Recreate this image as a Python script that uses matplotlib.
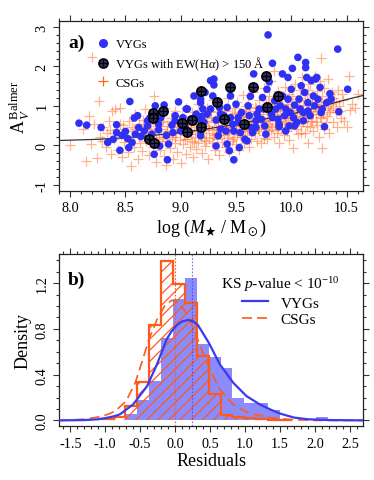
import matplotlib
matplotlib.use('Agg')
import matplotlib.pyplot as plt
from matplotlib.lines import Line2D
from matplotlib.ticker import MultipleLocator, FormatStrFormatter

plt.rcParams['font.family'] = ['Liberation Serif', 'DejaVu Serif']
plt.rcParams['mathtext.fontset'] = 'custom'
plt.rcParams['mathtext.rm'] = 'Liberation Serif'
plt.rcParams['mathtext.it'] = 'Liberation Serif:italic'
plt.rcParams['mathtext.bf'] = 'Liberation Serif:bold'
plt.rcParams['mathtext.fallback'] = 'stix'
plt.rcParams['axes.unicode_minus'] = False
plt.rcParams['hatch.linewidth'] = 0.9

# ---------------- panel a data ----------------
vyg_points = [
    (8.08, 0.56), (8.15, 0.51), (8.28, 0.45), (8.54, 1.11), (8.34, 0.07), (8.39, 0.15),
    (8.42, 0.52), (8.45, -0.13), (8.47, 0.25), (8.50, 0.35), (8.53, -0.06), (8.56, 0.07),
    (8.58, 0.69), (8.61, 0.75), (8.59, 0.28), (8.62, 0.45), (8.64, 0.22), (8.70, 0.49),
    (8.67, 0.36), (8.72, 0.69), (8.74, 0.28), (8.76, -0.23), (8.77, 1.00), (8.80, 0.53),
    (8.80, 0.39), (8.81, -0.02), (8.85, 1.02), (8.87, 0.25), (8.88, -0.37), (8.89, 0.03),
    (8.92, 0.51), (8.93, 0.32), (8.95, 0.75), (8.98, 1.10), (9.00, 0.36), (9.02, 0.70),
    (9.04, 0.46), (9.06, 0.92), (9.08, 0.32), (9.09, 0.66), (9.12, 1.25), (9.14, 0.79),
    (9.16, 0.66), (9.18, 1.17), (9.18, 1.08), (9.19, 0.73), (9.18, 0.24), (9.20, 0.92),
    (9.21, 0.58), (9.22, 1.34), (9.24, 0.79), (9.27, 1.64), (9.30, 1.68), (9.27, 0.92),
    (9.29, 1.25), (9.30, 1.53), (9.32, 0.64), (9.34, 0.24), (9.35, 0.96), (9.36, 0.41),
    (9.32, -0.02), (9.39, 0.75), (9.41, 0.36), (9.42, 0.96), (9.42, 0.03), (9.45, 1.25),
    (9.45, 0.70), (9.47, 0.53), (9.48, 0.36), (9.50, 1.04), (9.52, 0.70), (9.53, -0.06),
    (9.54, 0.32), (9.48, -0.37), (9.44, -0.14), (9.55, 0.83), (9.57, 0.53), (9.58, 0.15),
    (9.60, 0.11), (9.61, 1.00), (9.62, 0.75), (9.64, 0.45), (9.65, 0.32), (9.66, 1.81),
    (9.63, 1.24), (9.68, 0.62), (9.69, 0.79), (9.71, 0.92), (9.73, 0.66), (9.74, 1.21),
    (9.76, 0.49), (9.77, 0.28), (9.78, 1.42), (9.80, 1.61), (9.79, 2.80), (9.82, 0.79),
    (9.83, 2.08), (9.85, 1.13), (9.86, 0.92), (9.88, 0.66), (9.89, 0.53), (9.90, 1.00),
    (9.92, 1.25), (9.92, 1.81), (9.94, 0.75), (9.95, 0.92), (9.97, 1.17), (9.98, 0.49),
    (9.99, 0.83), (10.00, 1.42), (10.01, 1.95), (10.02, 0.70), (10.03, 1.02), (10.05, 0.58),
    (10.06, 2.23), (10.07, 1.17), (10.08, 0.92), (10.09, 1.51), (10.11, 0.83), (10.12, 1.34),
    (10.13, 2.10), (10.13, 1.97), (10.14, 1.72), (10.15, 1.08), (10.17, 0.75), (10.18, 1.64),
    (10.20, 1.25), (10.21, 1.00), (10.22, 1.68), (10.23, 1.72), (10.24, 1.17), (10.26, 1.47),
    (10.27, 0.83), (10.28, 0.92), (10.30, 0.47), (10.32, 1.08), (10.35, 1.31), (10.36, 1.17),
    (10.42, 2.44), (10.43, 0.85), (10.51, 1.42), (9.89, 0.47), (9.83, 0.70), (9.75, 0.92),
    (9.68, 0.45), (9.52, 0.58), (9.36, 0.79), (9.18, 0.36), (8.95, 0.62), (9.05, 0.92),
    (8.82, 0.70), (8.70, 0.62), (8.76, 0.70), (8.42, 0.32), (8.52, 0.17), (9.95, 0.36),
    (10.03, 0.49), (10.11, 0.62), (10.15, 0.87), (9.97, 1.72),
]

ew_points = [
    (8.75, 0.83), (8.75, 0.70), (8.84, 0.88), (8.71, 0.15), (8.76, 0.05), (9.01, 0.56),
    (9.06, 0.34), (9.10, 0.64), (9.18, 0.47), (9.18, 1.37), (9.33, 1.10), (9.39, 0.66),
    (9.45, 1.49), (9.57, 0.55), (9.65, 1.48), (9.77, 1.76), (9.78, 0.96), (9.88, 1.25),
]

csg_points = [
    (8.00, 0.00), (8.12, 0.40), (8.14, -0.40), (8.17, 0.75), (8.19, 0.03), (8.20, 2.25),
    (8.22, 0.55), (8.24, -0.33), (8.26, 1.12), (8.27, 0.22), (8.29, 0.10), (8.30, 0.47),
    (8.32, -0.05), (8.33, 0.30), (8.35, 0.62), (8.37, -0.22), (8.38, 0.88), (8.40, 0.15),
    (8.41, 0.92), (8.42, 0.40), (8.43, -0.12), (8.45, 0.95), (8.46, 0.25), (8.47, -0.30),
    (8.48, 0.52), (8.49, 0.08),
    (8.51, 0.35), (8.52, -0.18), (8.53, 0.62), (8.54, 0.12), (8.55, -0.53), (8.56, 0.45),
    (8.57, 0.20), (8.58, -0.05), (8.59, 0.78), (8.60, 0.30), (8.61, -0.35), (8.62, 0.55),
    (8.63, 0.05), (8.64, 0.42), (8.65, -0.15), (8.66, 0.65), (8.67, 0.25), (8.68, 0.92),
    (8.69, 0.10), (8.70, 0.38),
    (8.71, -0.25), (8.72, 0.55), (8.73, 0.18), (8.74, 0.72), (8.75, -0.05), (8.76, 1.25),
    (8.76, 0.33), (8.77, 0.05), (8.78, -0.42), (8.79, 0.48), (8.80, 0.22), (8.80, 0.80),
    (8.81, -0.12), (8.82, 0.40), (8.83, 0.10), (8.84, 0.62), (8.85, -0.28), (8.86, 0.28),
    (8.86, 0.95), (8.87, -0.50), (8.88, 0.50), (8.89, 0.15), (8.90, 0.35), (8.90, -0.08),
    (8.91, 0.70), (8.92, 0.20), (8.93, -0.35), (8.94, 0.45), (8.95, 0.05), (8.95, 0.88),
    (8.96, 0.30), (8.97, -0.18), (8.98, 0.58), (8.99, 0.12), (9.00, -0.45), (9.00, 0.38),
    (9.01, 0.75), (9.02, 0.02), (9.03, 0.25), (9.04, 0.50), (9.05, -0.22), (9.05, 0.95),
    (9.06, 0.15), (9.07, 0.40), (9.08, -0.05), (9.08, 0.65), (9.09, 0.28), (9.10, 0.10),
    (9.10, 0.85),
    (9.11, -0.30), (9.12, 0.45), (9.13, 0.20), (9.13, 0.70), (9.14, -0.10), (9.15, 0.35),
    (9.16, 0.05), (9.16, 1.05), (9.17, 0.55), (9.18, 0.22), (9.19, -0.20), (9.19, 0.80),
    (9.20, 0.40), (9.21, 0.12), (9.22, 0.62), (9.22, -0.02), (9.23, 0.30), (9.24, 0.95),
    (9.25, 0.48), (9.25, -0.35), (9.26, 0.18), (9.27, 0.72), (9.28, 0.05), (9.28, 0.38),
    (9.29, 1.15), (9.30, 0.25), (9.30, 0.58),
    (9.31, -0.12), (9.32, 0.42), (9.33, 0.85), (9.33, 0.15), (9.34, 0.60), (9.35, -0.25),
    (9.35, 0.32), (9.36, 1.02), (9.37, 0.50), (9.37, 0.08), (9.38, 0.70), (9.39, 0.25),
    (9.40, -0.05), (9.40, 0.45), (9.41, 0.88), (9.42, 0.18), (9.42, 0.62), (9.43, 1.20),
    (9.44, 0.35), (9.44, -0.18), (9.45, 0.55), (9.46, 0.10), (9.46, 0.78), (9.47, 0.40),
    (9.48, 0.95), (9.48, 0.22), (9.49, 0.62), (9.50, 0.02), (9.50, 0.48),
    (9.51, 1.10), (9.51, 0.30), (9.52, 0.68), (9.53, -0.12), (9.53, 0.52), (9.54, 0.85),
    (9.55, 0.20), (9.55, 0.42), (9.56, 1.28), (9.57, 0.62), (9.57, 0.05), (9.58, 0.35),
    (9.58, 0.92), (9.59, 0.75), (9.60, 0.25), (9.60, 0.50), (9.61, 1.05), (9.62, -0.05),
    (9.62, 0.65), (9.63, 0.38), (9.63, 0.88), (9.64, 0.15), (9.65, 0.55), (9.65, 1.35),
    (9.66, 0.72), (9.67, 0.30), (9.67, 0.98), (9.68, 0.45), (9.69, 0.10), (9.69, 0.80),
    (9.70, 0.60),
    (9.71, 1.15), (9.71, 0.35), (9.72, 0.70), (9.73, 0.05), (9.73, 0.52), (9.74, 0.90),
    (9.75, 0.25), (9.75, 1.45), (9.76, 0.62), (9.76, 0.42), (9.77, 1.05), (9.78, 0.78),
    (9.78, 0.15), (9.79, 0.55), (9.80, 1.25), (9.80, 0.35), (9.81, 0.85), (9.81, 0.65),
    (9.82, 1.62), (9.83, 0.45), (9.83, 0.95), (9.84, 1.89), (9.84, 0.20), (9.85, 0.72),
    (9.86, 1.12), (9.86, 0.50), (9.87, 0.30), (9.87, 0.88), (9.88, 1.38), (9.89, 0.60),
    (9.89, 0.05), (9.90, 0.78), (9.90, 1.00),
    (9.91, 0.40), (9.91, 1.20), (9.92, 0.68), (9.93, 0.90), (9.93, 0.25), (9.94, 1.48),
    (9.94, 0.55), (9.95, 0.80), (9.96, 1.05), (9.96, 0.35), (9.97, 0.65), (9.98, 1.30),
    (9.98, 0.12), (9.99, 0.88), (10.00, 0.50), (10.00, 1.10), (10.01, 0.72), (10.02, -0.07),
    (10.02, 0.95), (10.03, 1.55), (10.04, 0.40), (10.04, 0.82), (10.05, 1.18), (10.06, 0.62),
    (10.06, 0.28), (10.07, 1.00), (10.08, 1.40), (10.08, 0.75), (10.09, 0.48), (10.10, 0.90),
    (10.10, 1.72),
    (10.11, 0.60), (10.12, 1.15), (10.12, 0.30), (10.13, 0.85), (10.14, 1.30), (10.15, 0.70),
    (10.15, 0.05), (10.16, 1.02), (10.17, 0.45), (10.17, 1.55), (10.18, 0.88), (10.19, 1.20),
    (10.19, 0.62), (10.20, 0.35), (10.21, 1.00), (10.21, 1.75), (10.22, 0.78), (10.23, 1.38),
    (10.23, 0.52), (10.24, 1.10), (10.25, 0.20), (10.25, 0.92), (10.26, 1.62), (10.27, 2.22),
    (10.27, 0.68), (10.28, 1.25), (10.28, -0.07), (10.29, 0.95), (10.30, 0.42), (10.30, 1.45),
    (10.31, 1.10), (10.32, 0.75), (10.33, 1.68), (10.34, 0.30), (10.35, 1.30), (10.35, 0.90),
    (10.36, 1.05), (10.38, 0.58), (10.39, 1.20), (10.40, 0.85), (10.41, 0.47), (10.42, 1.40),
    (10.43, 1.00), (10.45, 0.70), (10.47, 1.15),
    (10.50, 0.45), (10.52, 1.76), (10.53, 0.89), (10.55, 1.05), (10.58, 0.95), (10.60, 1.30),
    (9.21, 0.52), (9.23, 0.10), (9.24, 0.68), (9.26, 0.40), (9.27, 0.88), (9.29, 0.20),
    (9.31, 0.65), (9.32, 0.28), (9.34, 0.45), (9.36, 0.60), (9.38, 0.35), (9.39, 0.90),
    (9.41, 0.52), (9.43, 0.28), (9.45, 0.70), (9.47, 0.15), (9.49, 0.82), (9.50, 0.38),
    (9.52, 0.58), (9.54, 0.25), (9.56, 0.72), (9.57, 0.45), (9.59, 1.00), (9.61, 0.40),
    (9.62, 0.82), (9.64, 0.58), (9.66, 0.35), (9.68, 0.95), (9.70, 0.42), (9.72, 0.88),
    (9.74, 0.62), (9.75, 0.18), (9.77, 0.48), (9.79, 1.10), (9.80, 0.68), (9.82, 0.38),
    (9.84, 0.85), (9.85, 0.55), (9.87, 1.05), (9.88, 0.40), (9.90, 0.62), (9.92, 1.05),
    (9.93, 0.45), (9.95, 0.68), (9.97, 0.95), (9.99, 0.60), (10.00, 0.82), (10.01, 1.25),
    (10.03, 0.55), (10.05, 0.90), (10.07, 0.68), (10.08, 1.20), (10.09, 0.32), (10.11, 1.02),
    (10.12, 0.75), (10.14, 0.50), (10.15, 1.40), (10.16, 0.85), (10.18, 0.62), (10.19, 1.05),
    (10.20, 0.80), (10.22, 0.58), (10.23, 1.20), (10.24, 0.88), (10.26, 0.72), (10.27, 1.05),
    (10.29, 0.80), (10.31, 0.58), (10.33, 1.00), (10.34, 0.85), (10.37, 1.35), (10.38, 0.95),
    (10.40, 1.10), (10.44, 0.88), (10.46, 1.30), (10.48, 0.62), (8.95, 0.22), (8.97, 0.48),
    (9.02, 0.60), (9.04, 0.15), (9.06, 0.32), (9.09, 0.55), (9.12, 0.08), (9.14, 0.52),
    (9.15, 0.78), (9.17, 0.30), (8.84, 0.20), (8.82, 0.58), (8.88, 0.35), (8.92, 0.62),
    (8.78, 0.15), (8.73, 0.42), (8.68, 0.50), (8.62, 0.22), (8.58, 0.40), (8.50, 0.20),
    (8.45, 0.55), (8.36, 0.38),
]

trend_mass = [7.90, 8.25, 8.50, 8.75, 9.00, 9.25, 9.50, 9.75, 10.00, 10.25, 10.50, 10.66]
trend_av = [0.12, 0.15, 0.19, 0.25, 0.32, 0.42, 0.53, 0.66, 0.79, 0.97, 1.16, 1.27]

# ---------------- panel b data ----------------
csg_edges = [-1.05, -0.88, -0.71, -0.54, -0.37, -0.20, -0.03, 0.14, 0.31, 0.48, 0.65,
             0.82, 0.99, 1.16, 1.33, 1.50, 1.67]
csg_density = [0.01, 0.03, 0.13, 0.34, 0.83, 1.39, 1.19, 1.03, 0.56, 0.235, 0.05,
               0.03, 0.02, 0.01, 0.005, 0.003]

vyg_edges = [-0.88, -0.71, -0.54, -0.37, -0.20, -0.03, 0.14, 0.31, 0.48, 0.65, 0.82,
             0.99, 1.16, 1.33, 1.50, 1.67, 1.84, 2.01, 2.18, 2.35]
vyg_density = [0.0, 0.06, 0.175, 0.345, 0.72, 1.065, 1.245, 0.665, 0.55, 0.46, 0.20,
               0.15, 0.15, 0.088, 0.005, 0.005, 0.005, 0.03, 0.01]

vyg_fit_x = [-1.65, -1.3, -1.1, -1.0, -0.88, -0.79, -0.6, -0.4, -0.26, -0.12, -0.05, 0.02,
             0.10, 0.19, 0.26, 0.33, 0.48, 0.64, 0.83, 1.02, 1.21, 1.36, 1.5, 1.7, 1.9,
             2.2, 2.7]
vyg_fit_y = [0.0, 0.003, 0.01, 0.02, 0.035, 0.053, 0.14, 0.30, 0.49, 0.71, 0.78, 0.83,
             0.865, 0.878, 0.865, 0.83, 0.68, 0.49, 0.33, 0.213, 0.14, 0.096, 0.06, 0.025,
             0.01, 0.003, 0.0]

csg_fit_x = [-1.65, -1.3, -1.1, -0.95, -0.85, -0.7, -0.57, -0.48, -0.38, -0.26, -0.15,
             -0.05, 0.05, 0.15, 0.25, 0.36, 0.5, 0.64, 0.83, 1.0, 1.12, 1.4, 1.7, 2.0, 2.7]
csg_fit_y = [0.0, 0.01, 0.03, 0.055, 0.085, 0.17, 0.33, 0.5, 0.70, 0.88, 1.0, 1.05,
             1.03, 0.95, 0.82, 0.65, 0.44, 0.27, 0.14, 0.08, 0.055, 0.02, 0.006, 0.0, 0.0]

csg_median = 0.0
vyg_median = 0.24

# ---------------- styling ----------------
BLUE = '#3030f4'
ORANGE_PT = '#ff6a22'
ORANGE = '#ff5a1c'
BLUE_FILL = '#8b8bfb'
BLUE_LINE = '#3a3af0'
EW_FACE = '#2e2e66'

fig = plt.figure(figsize=(3.74, 4.81), dpi=100)
ax1 = fig.add_axes([0.158, 0.601, 0.813, 0.353])
ax2 = fig.add_axes([0.158, 0.112, 0.813, 0.358])


def style(ax, xmaj, xmin, ymaj, ymin):
    ax.xaxis.set_major_locator(MultipleLocator(xmaj))
    ax.xaxis.set_minor_locator(MultipleLocator(xmin))
    ax.yaxis.set_major_locator(MultipleLocator(ymaj))
    ax.yaxis.set_minor_locator(MultipleLocator(ymin))
    ax.tick_params(which='both', direction='out', top=True, right=True,
                   labeltop=False, labelright=False, width=0.8, color='#333333')
    ax.tick_params(which='major', length=4.0, labelsize=10.3, pad=3.5)
    ax.tick_params(which='minor', length=2.4)
    ax.tick_params(axis='y', labelrotation=90)
    for lab in ax.get_yticklabels():
        lab.set_va('center')
    for s in ax.spines.values():
        s.set_linewidth(0.9)
        s.set_color('#222222')


# ---- panel a ----
cx = [p[0] for p in csg_points]
cy = [p[1] for p in csg_points]
vx = [p[0] for p in vyg_points]
vy = [p[1] for p in vyg_points]
ex = [p[0] for p in ew_points]
ey = [p[1] for p in ew_points]

ax1.scatter(cx, cy, marker='+', s=58, color=ORANGE_PT, alpha=0.5, linewidths=0.9, zorder=2)
ax1.plot(trend_mass, trend_av, color='#333333', lw=0.9, zorder=3)
ax1.scatter(vx, vy, marker='o', s=30, color=BLUE, edgecolors='none', zorder=4)
ax1.scatter(ex, ey, marker='o', s=44, facecolor=EW_FACE, edgecolors='black',
            linewidths=1.2, zorder=5)
ax1.scatter(ex, ey, marker='+', s=40, color='black', linewidths=0.9, zorder=6)

ax1.set_xlim(7.90, 10.65)
ax1.set_ylim(-1.16, 3.15)
style(ax1, 0.5, 0.1, 1, 0.2)
ax1.set_xlabel(r'log ($M_\bigstar$ / M$_\odot$)', fontsize=13, labelpad=2)
ax1.set_ylabel(r'$\mathrm{A}_{\,V}^{\,\mathrm{Balmer}}$', fontsize=13, labelpad=3)
ax1.text(0.03, 0.875, 'a)', transform=ax1.transAxes, fontsize=14, fontweight='bold',
         va='center', ha='left')

h_vyg = Line2D([], [], ls='none', marker='o', ms=5.5, mfc=BLUE, mec=BLUE)
h_ew = (Line2D([], [], ls='none', marker='o', ms=6.5, mfc=EW_FACE, mec='black', mew=1.2),
        Line2D([], [], ls='none', marker='+', ms=6.3, color='black', mew=0.9))
h_csg = Line2D([], [], ls='none', marker='+', ms=7.5, color=ORANGE_PT, mew=0.9)
ax1.legend([h_vyg, h_ew, h_csg],
           ['VYGs', r'VYGs with EW(H$\alpha$) > 150 $\mathrm{\AA}$', 'CSGs'],
           loc='upper left', bbox_to_anchor=(0.095, 0.95), frameon=False, fontsize=9,
           handlelength=1.0, handletextpad=0.5, labelspacing=0.36, borderpad=0.2)

# ---- panel b ----
ax2.stairs(vyg_density, vyg_edges, fill=True, facecolor=BLUE_FILL, edgecolor='none',
           lw=0, zorder=1)
ax2.stairs(csg_density, csg_edges, fill=True, facecolor='none', edgecolor=ORANGE,
           hatch='///', lw=0, zorder=2)
ax2.stairs(csg_density, csg_edges, fill=False, color=ORANGE, lw=1.6, zorder=3)
ax2.axvline(csg_median, color=ORANGE, lw=0.8, ls=(0, (1.5, 1.5)), zorder=3)
ax2.axvline(vyg_median, color=BLUE_LINE, lw=0.8, ls=(0, (1.5, 1.5)), alpha=0.7, zorder=3)
ax2.plot(csg_fit_x, csg_fit_y, color=ORANGE, lw=1.2, ls=(0, (6, 3)), zorder=4)
ax2.plot(vyg_fit_x, vyg_fit_y, color=BLUE_LINE, lw=1.6, zorder=5)

ax2.set_xlim(-1.66, 2.69)
ax2.set_ylim(-0.05, 1.455)
style(ax2, 0.5, 0.1, 0.4, 0.1)
ax2.yaxis.set_major_formatter(FormatStrFormatter('%.1f'))
ax2.set_xlabel('Residuals', fontsize=13, labelpad=2)
ax2.set_ylabel('Density', fontsize=13, labelpad=3)
ax2.text(0.03, 0.855, 'b)', transform=ax2.transAxes, fontsize=14, fontweight='bold',
         va='center', ha='left')

leg = ax2.legend([Line2D([], [], color=BLUE_LINE, lw=1.6),
                  Line2D([], [], color=ORANGE, lw=1.2, ls=(0, (6, 3)))],
                 ['VYGs', 'CSGs'], loc='upper right', bbox_to_anchor=(0.965, 0.955),
                 frameon=False, fontsize=11, title=r'KS $p$-value < 10$^{-10}$',
                 title_fontsize=11, handlelength=1.7, handletextpad=0.8,
                 labelspacing=0.2, borderpad=0.3)

fig.savefig('out.png', dpi=100)
